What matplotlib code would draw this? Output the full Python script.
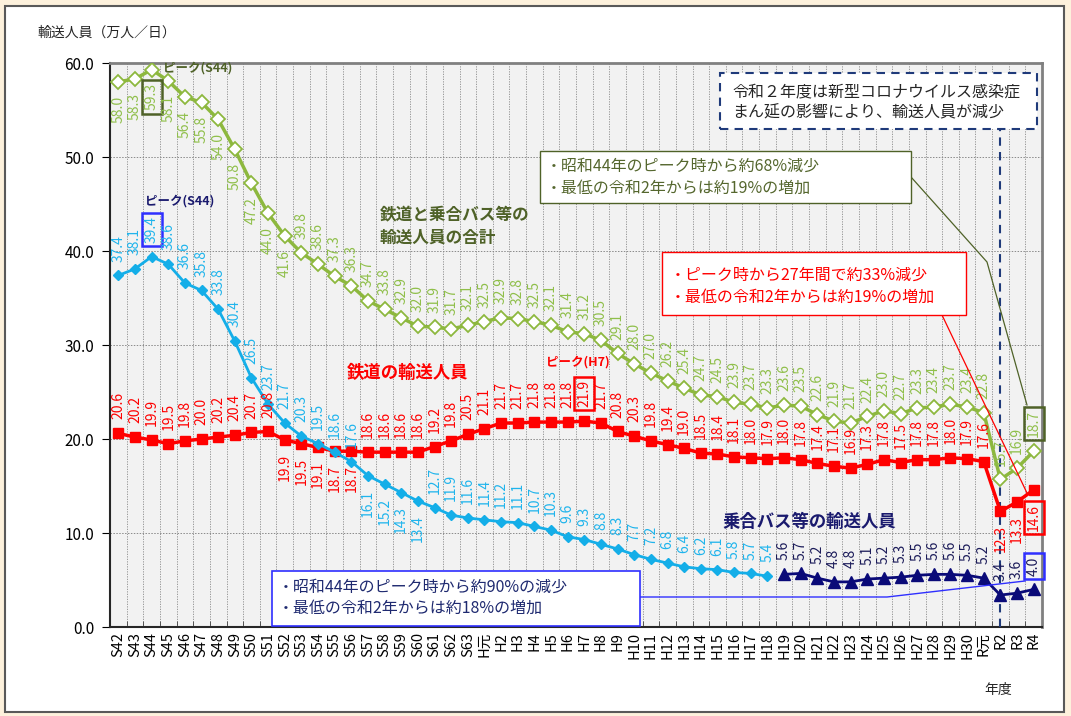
import numpy as np
import matplotlib.pyplot as plt
from matplotlib.patches import Rectangle
from matplotlib.lines import Line2D

plt.rcParams['font.family'] = ['Noto Sans CJK JP', 'DejaVu Sans']

# 年度
nendo = ([f'S{n}' for n in range(42, 64)] + ['H元'] +
         [f'H{n}' for n in range(2, 31)] + ['R元', 'R2', 'R3', 'R4'])

# 鉄道と乗合バス等の合計（万人/日）
goukei = [58.0, 58.3, 59.3, 58.1, 56.4, 55.8, 54.0, 50.8, 47.2, 44.0, 41.6,
          39.8, 38.6, 37.3, 36.3, 34.7, 33.8, 32.9, 32.0, 31.9, 31.7, 32.1,
          32.5, 32.9, 32.8, 32.5, 32.1, 31.4, 31.2, 30.5, 29.1, 28.0, 27.0,
          26.2, 25.4, 24.7, 24.5, 23.9, 23.7, 23.3, 23.6, 23.5, 22.6, 21.9,
          21.7, 22.4, 23.0, 22.7, 23.3, 23.4, 23.7, 23.4, 22.8, 15.7, 16.9, 18.7]

# 鉄道
tetsudo = [20.6, 20.2, 19.9, 19.5, 19.8, 20.0, 20.2, 20.4, 20.7, 20.8, 19.9,
           19.5, 19.1, 18.7, 18.7, 18.6, 18.6, 18.6, 18.6, 19.2, 19.8, 20.5,
           21.1, 21.7, 21.7, 21.8, 21.8, 21.8, 21.9, 21.7, 20.8, 20.3, 19.8,
           19.4, 19.0, 18.5, 18.4, 18.1, 18.0, 17.9, 18.0, 17.8, 17.4, 17.1,
           16.9, 17.3, 17.8, 17.5, 17.8, 17.8, 18.0, 17.9, 17.6, 12.3, 13.3, 14.6]

# 乗合バス等（H18まで旧集計、H19から新集計）
bus = [37.4, 38.1, 39.4, 38.6, 36.6, 35.8, 33.8, 30.4, 26.5, 23.7, 21.7,
       20.3, 19.5, 18.6, 17.6, 16.1, 15.2, 14.3, 13.4, 12.7, 11.9, 11.6,
       11.4, 11.2, 11.1, 10.7, 10.3, 9.6, 9.3, 8.8, 8.3, 7.7, 7.2,
       6.8, 6.4, 6.2, 6.1, 5.8, 5.7, 5.4, 5.6, 5.7, 5.2, 4.8,
       4.8, 5.1, 5.2, 5.3, 5.5, 5.6, 5.6, 5.5, 5.2, 3.4, 3.6, 4.0]

GREEN = '#8DB83E'
GREEN_TXT = '#8FBF4A'
OLIVE = '#4F6228'
RED = '#FF0000'
CYAN = '#14AEE8'
CYAN_TXT = '#1FB4EC'
NAVY = '#0A0A78'
NAVY_TXT = '#1C1C5A'
BLUE = '#2F2FFF'

W, H = 1071, 716
fig = plt.figure(figsize=(W / 100, H / 100), dpi=100)
fig.patch.set_facecolor('#FDF1DC')
fig.add_artist(Rectangle((5 / W, 1 - 712 / H), (1064 - 5) / W, (712 - 6) / H,
                         transform=fig.transFigure, fc='white', ec='#595959',
                         lw=1.5, zorder=-10))

ax = fig.add_axes([110 / W, 1 - 627 / H, 932 / W, 564 / H])
ax.set_facecolor('#F2F2F2')
x = np.arange(len(nendo))
ax.set_xlim(-0.5, len(nendo) - 0.5)
ax.set_ylim(0, 60)

split = nendo.index('H19')
ax.plot(x, goukei, color=GREEN, lw=2.5, marker='D', ms=7.5, mfc='white',
        mec=GREEN, mew=1.3, zorder=4)
ax.plot(x, tetsudo, color=RED, lw=2.5, marker='s', ms=7.5, zorder=4)
ax.plot(x[:split], bus[:split], color=CYAN, lw=2, marker='D', ms=5.5, zorder=4)
ax.plot(x[split:], bus[split:], color=NAVY, lw=2, marker='^', ms=8, zorder=4)


def labels(vals, idx, color, below=(), boxed=None):
    boxed = boxed or {}
    for i in idx:
        v = vals[i]
        dn = i in below
        kw = {}
        if i in boxed:
            kw['bbox'] = dict(boxstyle='square,pad=0.22', fc='none',
                              ec=boxed[i], lw=1.8)
        ax.annotate(f'{v:.1f}', (x[i], v), xytext=(0, -10 if dn else 10),
                    textcoords='offset points', rotation=90, ha='center',
                    va='top' if dn else 'bottom', fontsize=10, color=color,
                    zorder=6, annotation_clip=False, **kw)


n = len(nendo)
labels(goukei, range(n), GREEN_TXT, below=range(0, 11),
       boxed={2: OLIVE, n - 1: OLIVE})
labels(tetsudo, range(n), RED, below=[10, 11, 12, 13, 14, n - 3, n - 2, n - 1],
       boxed={28: RED, n - 1: RED})
labels(bus, range(split), CYAN_TXT, below=[15, 16, 17, 18], boxed={2: BLUE})
labels(bus, range(split, n), NAVY_TXT, boxed={n - 1: BLUE})

# 軸・グリッド
ax.set_xticks(x)
ax.set_xticklabels(nendo, rotation=90, fontsize=10.5)
ax.tick_params(axis='x', which='major', length=0, pad=3.5)
ax.set_xticks(np.arange(-0.5, n), minor=True)
ax.tick_params(axis='x', which='minor', direction='in', length=4, color='#404040')
ax.grid(axis='x', which='minor', color='#8A8A8A', ls=(0, (1.5, 1.5)), lw=0.6)
ax.set_yticks(range(0, 61, 10))
ax.set_yticklabels([f'{v:.1f}' for v in range(0, 61, 10)], fontsize=11)
ax.tick_params(axis='y', direction='out', length=5.5, pad=6)
ax.grid(axis='y', which='major', color='#8A8A8A', ls=(0, (1.5, 1.5)), lw=0.7)
ax.set_axisbelow(True)
for s in ['left', 'bottom']:
    ax.spines[s].set_color('#262626')
    ax.spines[s].set_linewidth(1.5)
for s in ['top', 'right']:
    ax.spines[s].set_color('#808080')
    ax.spines[s].set_linewidth(2)

ax.axvline(nendo.index('R2'), ymin=0, ymax=(627 - 129) / 564, color='#1F3A7A',
           ls=(0, (4, 3)), lw=1.5, zorder=3)

# 系列名とピーク
ax.text(15.7, 42.6, '鉄道と乗合バス等の\n輸送人員の合計', color=OLIVE, fontsize=12,
        fontweight='bold', ha='left', va='center', linespacing=1.35, zorder=6)
ax.text(13.7, 27.0, '鉄道の輸送人員', color=RED, fontsize=12.5,
        fontweight='bold', ha='left', va='center', zorder=6)
ax.text(36.3, 11.2, '乗合バス等の輸送人員', color='#1A1A6E', fontsize=12.5,
        fontweight='bold', ha='left', va='center', zorder=6)
ax.text(2.69, 59.5, 'ピーク(S44)', color=OLIVE, fontsize=9, fontweight='bold',
        ha='left', va='center', zorder=6, clip_on=False)
ax.text(1.6, 45.3, 'ピーク(S44)', color='#1A1A6E', fontsize=9, fontweight='bold',
        ha='left', va='center', zorder=6)
ax.text(27.6, 28.2, 'ピーク(H7)', color=RED, fontsize=9, fontweight='bold',
        ha='center', va='center', zorder=6)


# 吹き出し（ピクセル座標）
def box(x0, y0, x1, y1, ec, ls='-', lw=1.0):
    fig.add_artist(Rectangle((x0 / W, 1 - y1 / H), (x1 - x0) / W, (y1 - y0) / H,
                             transform=fig.transFigure, fc='white', ec=ec,
                             ls=ls, lw=lw, zorder=5))


def txt(px, py, s, color, size=11.5):
    fig.text(px / W, 1 - py / H, s, color=color, fontsize=size, ha='left',
             va='center', zorder=6)


def line(pts, color, lw=0.9):
    xs = [p[0] / W for p in pts]
    ys = [1 - p[1] / H for p in pts]
    fig.add_artist(Line2D(xs, ys, transform=fig.transFigure, color=color,
                          lw=lw, zorder=5))


line([(911, 177), (987, 262), (1027, 405)], OLIVE)
line([(942, 315), (1027, 493)], RED)
line([(640, 597), (887, 597), (1025, 581)], BLUE, lw=1.0)

box(720, 73, 1037, 129, '#1F3A7A', ls=(0, (4, 3)), lw=1.5)
txt(732, 92, '令和２年度は新型コロナウイルス感染症', '#262626')
txt(732, 113, 'まん延の影響により、輸送人員が減少', '#262626')

box(540, 151, 911, 203, OLIVE)
txt(546, 166, '・昭和44年のピーク時から約68%減少', '#55672E')
txt(546, 188, '・最低の令和2年からは約19%の増加', '#55672E')

box(662, 252, 966, 315, RED)
txt(670, 275, '・ピーク時から27年間で約33%減少', RED)
txt(670, 297, '・最低の令和2年からは約19%の増加', RED)

box(272, 571, 640, 626, BLUE, lw=1.2)
txt(278, 587, '・昭和44年のピーク時から約90%の減少', '#1F2A70')
txt(278, 608, '・最低の令和2年からは約18%の増加', '#1F2A70')

fig.text(38 / W, 1 - 33 / H, '輸送人員（万人／日）', fontsize=10, ha='left',
         va='center', color='#262626')
fig.text(998 / W, 1 - 690 / H, '年度', fontsize=10, ha='center', va='center',
         color='#262626')

fig.savefig('out.png', dpi=100, facecolor=fig.get_facecolor())
